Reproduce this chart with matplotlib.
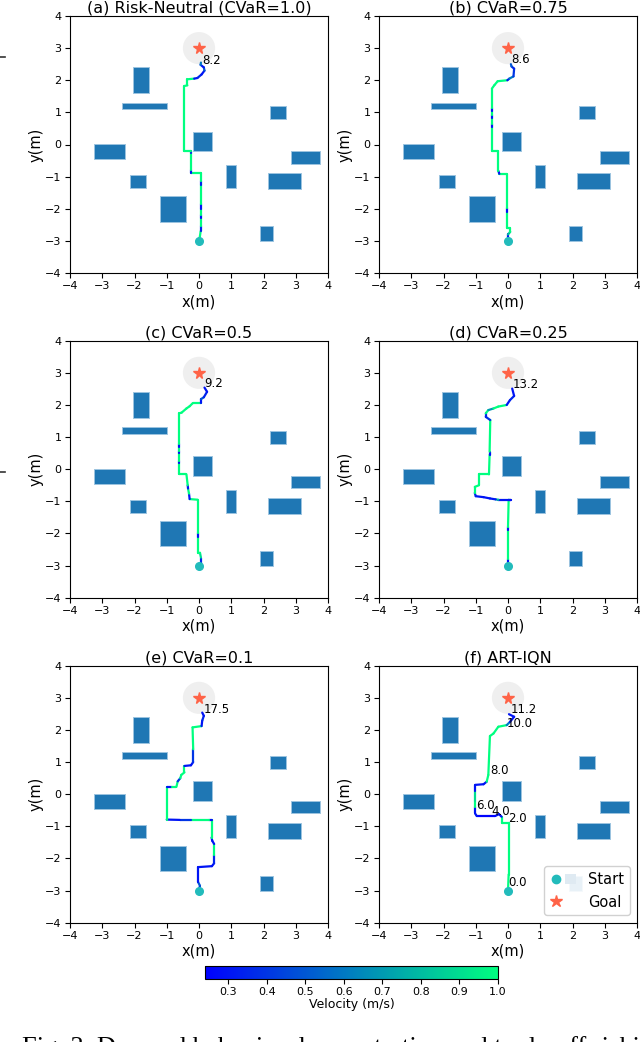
import numpy as np
import matplotlib
matplotlib.use("Agg")
import matplotlib.pyplot as plt
from matplotlib.collections import LineCollection
from matplotlib.patches import Rectangle, Circle
from matplotlib.lines import Line2D
from matplotlib.legend_handler import HandlerTuple
from matplotlib.colors import Normalize

# ---------------- data ----------------
titles = ["(a) Risk-Neutral (CVaR=1.0)", "(b) CVaR=0.75", "(c) CVaR=0.5",
          "(d) CVaR=0.25", "(e) CVaR=0.1", "(f) ART-IQN"]
end_times = [8.2, 8.6, 9.2, 13.2, 17.5, 11.2]

# obstacles: lower-left corner, width, height
obs_x0 = [-2.05, -2.40, 2.20, -0.20, -3.25, 2.85, -2.15, 0.85, 2.15, -1.20, 1.90]
obs_y0 = [1.60, 1.10, 0.80, -0.20, -0.45, -0.60, -1.35, -1.35, -1.40, -2.40, -3.00]
obs_w = [0.50, 1.40, 0.50, 0.60, 0.95, 0.90, 0.50, 0.30, 1.00, 0.80, 0.40]
obs_h = [0.80, 0.20, 0.40, 0.60, 0.45, 0.40, 0.40, 0.70, 0.50, 0.80, 0.45]

start_xy = (0.0, -3.0)
goal_xy = (0.0, 3.0)
goal_radius = 0.5

# trajectories (x, y, velocity per segment)
pa_x = [0.00, 0.03, 0.05, 0.05, 0.05, 0.05, 0.05, 0.05, 0.05, 0.05, 0.05, -0.26, -0.26,
        -0.26, -0.26, -0.46, -0.46, -0.36, -0.36, -0.15, -0.05, 0.08, 0.17, 0.15, 0.05, 0.06]
pa_y = [-3.00, -2.85, -2.70, -2.55, -2.30, -2.20, -2.00, -1.85, -1.25, -1.15, -0.88, -0.88,
        -0.78, -0.25, -0.19, -0.19, 1.82, 1.84, 2.03, 2.05, 2.07, 2.18, 2.30, 2.40, 2.48, 2.55]
pa_v = [1.0, 1.0, 0.35, 1.0, 0.3, 1.0, 0.3, 1.0, 0.35, 1.0, 1.0, 0.3, 1.0, 0.4, 1.0,
        1.0, 1.0, 1.0, 1.0, 0.3, 0.35, 0.3, 0.5, 0.3, 0.6]

pb_x = [0.00, 0.00, 0.07, 0.07, -0.04, -0.04, -0.04, -0.04, -0.27, -0.30, -0.30, -0.50,
        -0.50, -0.50, -0.50, -0.50, -0.50, -0.50, -0.50, -0.42, -0.32, -0.02, 0.04, 0.17,
        0.19, 0.11, 0.09]
pb_y = [-3.00, -2.80, -2.72, -2.60, -2.60, -2.10, -1.98, -0.91, -0.91, -0.82, -0.20, -0.20,
        0.55, 0.65, 0.82, 0.92, 1.05, 1.15, 1.74, 1.85, 1.97, 2.00, 2.05, 2.12, 2.36, 2.43, 2.50]
pb_v = [0.3, 0.8, 1.0, 1.0, 1.0, 0.3, 1.0, 1.0, 0.3, 1.0, 1.0, 1.0, 0.3, 1.0, 0.3, 1.0,
        0.3, 1.0, 1.0, 1.0, 1.0, 0.3, 0.6, 0.4, 0.35, 0.5]

pc_x = [0.00, 0.06, 0.06, 0.03, -0.04, -0.04, -0.04, -0.04, -0.29, -0.31, -0.34, -0.35,
        -0.39, -0.62, -0.62, -0.62, -0.62, -0.62, -0.62, -0.62, -0.62, -0.54, -0.39, -0.29,
        -0.20, 0.06, 0.06, 0.15, 0.25, 0.17]
pc_y = [-3.00, -2.92, -2.75, -2.60, -2.60, -2.10, -1.98, -0.95, -0.93, -0.76, -0.60, -0.50,
        -0.16, -0.16, 0.20, 0.25, 0.50, 0.58, 0.70, 0.80, 1.74, 1.76, 1.89, 1.96, 2.05, 2.05,
        2.18, 2.24, 2.41, 2.54]
pc_v = [0.3, 0.35, 0.9, 1.0, 1.0, 0.3, 1.0, 1.0, 0.3, 1.0, 0.3, 1.0, 1.0, 1.0, 0.3, 1.0,
        0.3, 1.0, 0.3, 1.0, 1.0, 1.0, 1.0, 1.0, 1.0, 0.3, 0.5, 0.35, 0.3]

pd_x = [0.00, 0.00, 0.00, 0.00, 0.02, 0.10, -0.30, -0.38, -0.56, -0.76, -1.00, -1.03,
        -1.03, -0.90, -0.90, -0.59, -0.57, -0.57, -0.55, -0.69, -0.69, -0.61, -0.45, -0.30,
        -0.04, 0.06, 0.19, 0.13]
pd_y = [-3.00, -2.80, -1.90, -1.80, -0.95, -0.95, -0.95, -0.94, -0.91, -0.87, -0.84, -0.74,
        -0.55, -0.50, -0.16, -0.16, 0.45, 0.55, 1.53, 1.63, 1.74, 1.84, 1.89, 1.95, 2.00,
        2.15, 2.28, 2.51]
pd_v = [0.3, 1.0, 0.3, 1.0, 0.3, 0.3, 0.8, 0.3, 0.3, 0.3, 0.35, 1.0, 1.0, 1.0, 1.0, 1.0,
        0.3, 1.0, 0.4, 0.35, 1.0, 0.7, 1.0, 1.0, 0.3, 0.35, 0.3]

pe_x = [0.00, 0.03, -0.03, -0.03, 0.40, 0.47, 0.47, 0.47, 0.41, 0.39, 0.39, 0.30, -0.25,
        -0.60, -1.00, -1.00, -0.85, -0.70, -0.66, -0.58, -0.55, -0.45, -0.45, -0.25, -0.18,
        -0.18, -0.20, 0.08, 0.10, 0.15, 0.10]
pe_y = [-2.98, -2.85, -2.73, -2.27, -2.24, -2.15, -1.90, -1.55, -1.45, -1.35, -0.80, -0.80,
        -0.80, -0.80, -0.79, 0.23, 0.23, 0.23, 0.40, 0.50, 0.60, 0.68, 0.88, 0.90, 1.00,
        1.40, 2.08, 2.12, 2.29, 2.44, 2.54]
pe_v = [0.35, 0.5, 0.3, 0.3, 0.3, 0.35, 1.0, 0.3, 0.3, 1.0, 0.3, 1.0, 0.4, 0.3, 1.0,
        0.3, 1.0, 1.0, 0.4, 1.0, 1.0, 1.0, 0.3, 0.3, 0.4, 1.0, 1.0, 0.3, 0.35, 0.3]

pf_x = [0.00, 0.02, 0.02, -0.20, -0.20, -0.28, -0.40, -0.97, -1.02, -1.02, -1.02, -1.02,
        -1.02, -0.76, -0.66, -0.61, -0.56, -0.45, -0.30, -0.04, 0.06, 0.19, 0.03]
pf_y = [-3.00, -2.50, -0.89, -0.89, -0.70, -0.62, -0.68, -0.68, -0.60, -0.40, -0.20, 0.10,
        0.29, 0.31, 0.39, 0.60, 1.81, 1.89, 2.10, 2.15, 2.25, 2.41, 2.49]
pf_v = [1.0, 1.0, 1.0, 1.0, 0.3, 0.3, 0.25, 0.3, 0.3, 1.0, 0.9, 0.3, 0.3, 0.3, 1.0,
        1.0, 1.0, 1.0, 1.0, 0.6, 0.3, 0.3]

# time stamps along the ART-IQN path
f_label_t = [0.0, 2.0, 4.0, 6.0, 8.0, 10.0, 11.2]
f_label_x = [0.01, 0.01, -0.51, -1.00, -0.54, -0.04, 0.07]
f_label_y = [-2.87, -0.85, -0.64, -0.47, 0.62, 2.10, 2.54]

# final-time labels for (a)-(e)
end_label_x = [0.10, 0.11, 0.17, 0.13, 0.13]
end_label_y = [2.52, 2.55, 2.57, 2.54, 2.54]

paths = [(pa_x, pa_y, pa_v), (pb_x, pb_y, pb_v), (pc_x, pc_y, pc_v),
         (pd_x, pd_y, pd_v), (pe_x, pe_y, pe_v), (pf_x, pf_y, pf_v)]

vmin, vmax = 0.24, 1.0
cbar_ticks = [0.3, 0.4, 0.5, 0.6, 0.7, 0.8, 0.9, 1.0]

caption = "Fig. 3. Demand behavior demonstration and trade-off risking time"

# ---------------- figure ----------------
W, H = 640, 1042
fig = plt.figure(figsize=(W / 100, H / 100), dpi=100)


def px_axes(left, top, w, h):
    return fig.add_axes([left / W, 1 - (top + h) / H, w / W, h / H])


lefts = [70, 379]
tops = [16, 340.7, 665.7]
aw, ah = 258, 257

cmap = plt.get_cmap("winter")
norm = Normalize(vmin=vmin, vmax=vmax)
start_color = "#22bbbb"
goal_color = "tomato"

axes = []
for i in range(6):
    r, c = divmod(i, 2)
    ax = px_axes(lefts[c], tops[r], aw, ah)
    axes.append(ax)
    ax.set_xlim(-4, 4)
    ax.set_ylim(-4, 4)
    ax.set_xticks(range(-4, 5))
    ax.set_yticks(range(-4, 5))
    ax.tick_params(labelsize=8, length=3.5, width=0.8, pad=2.5)
    ax.set_xlabel("x(m)", fontsize=10.5, labelpad=2)
    ax.set_ylabel("y(m)", fontsize=10.5, labelpad=1)
    ax.set_title(titles[i], fontsize=11.5, pad=2.5)

    for x0, y0, w, h in zip(obs_x0, obs_y0, obs_w, obs_h):
        ax.add_patch(Rectangle((x0, y0), w, h, facecolor="#1f77b4",
                               edgecolor="#9cc4e0", linewidth=0.7, zorder=2))
    ax.add_patch(Circle(goal_xy, goal_radius, facecolor="#efefef",
                        edgecolor="none", zorder=1))

    px, py, pv = paths[i]
    pts = np.column_stack([px, py])
    segs = np.stack([pts[:-1], pts[1:]], axis=1)
    lc = LineCollection(segs, cmap=cmap, norm=norm, linewidths=1.6,
                        capstyle="round", zorder=3)
    lc.set_array(np.asarray(pv))
    ax.add_collection(lc)

    ax.plot(*start_xy, "o", color=start_color, markersize=5.5, zorder=4)
    ax.plot(*goal_xy, "*", color=goal_color, markersize=8.5, zorder=4)

    if i < 5:
        ax.text(end_label_x[i], end_label_y[i], f"{end_times[i]:.1f}",
                fontsize=8.5, zorder=5)
    else:
        for t, tx, ty in zip(f_label_t, f_label_x, f_label_y):
            ax.text(tx, ty, f"{t:.1f}", fontsize=8.5, zorder=5)
        h_start = Line2D([], [], marker="o", color=start_color, linestyle="none",
                         markersize=6)
        h_sq = Rectangle((0, 0), 1, 1, facecolor="#dfeaf2", edgecolor="none")
        h_goal = Line2D([], [], marker="*", color=goal_color, linestyle="none",
                        markersize=9)
        h_none = Line2D([], [], linestyle="none")
        ax.legend([(h_start, h_sq), (h_goal, h_none)], ["Start", "Goal"],
                  handler_map={tuple: HandlerTuple(ndivide=None, pad=0.2)},
                  loc="lower right", fontsize=10.5, handlelength=1.8,
                  borderaxespad=0.5, framealpha=0.9)

# colorbar
cax = px_axes(205, 966, 293, 13)
sm = plt.cm.ScalarMappable(norm=norm, cmap=cmap)
cb = fig.colorbar(sm, cax=cax, orientation="horizontal", ticks=cbar_ticks)
cb.ax.tick_params(labelsize=8, length=3.5, pad=2)
cb.set_label("Velocity (m/s)", fontsize=9, labelpad=1)

# small stray marks at the left edge of the page
fig.add_artist(Line2D([0, 5 / W], [1 - 57 / H, 1 - 57 / H], color="#333333", lw=1.2))
fig.add_artist(Line2D([0, 5 / W], [1 - 472 / H, 1 - 472 / H], color="#333333", lw=1.2))

# caption (only the top of its first line shows at the bottom edge)
fig.text(22 / W, 1 - 1054 / H, caption, fontsize=19, family="Liberation Serif",
         va="baseline")

fig.savefig("out.png", dpi=100)
